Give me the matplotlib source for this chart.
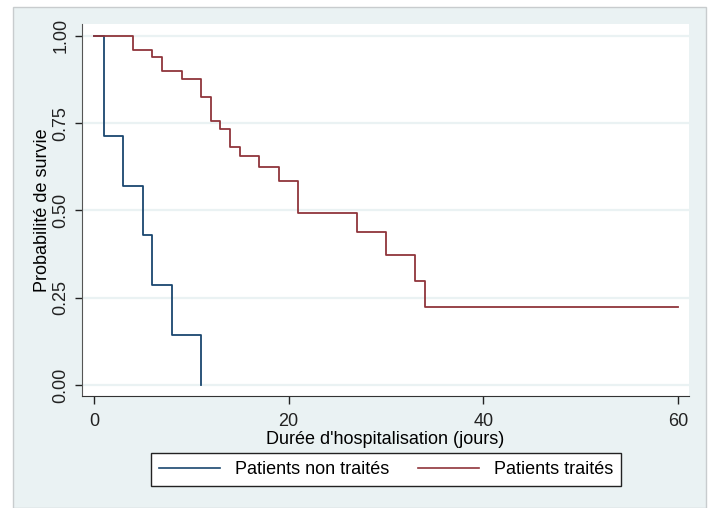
'''Courbes de survie Kaplan-Meier - patients traités vs non traités'''
import matplotlib
matplotlib.use('Agg')
import matplotlib.pyplot as plt
from matplotlib.patches import Rectangle

# Données
jours_non_traites = [0, 1, 3, 5, 6, 8, 11]
survie_non_traites = [1.0, 0.714, 0.571, 0.429, 0.286, 0.143, 0.0]

jours_traites = [0, 4, 6, 7, 9, 11, 12, 13, 14, 15, 17, 19, 21, 27, 30, 33, 34, 60]
survie_traites = [1.0, 0.958, 0.938, 0.898, 0.876, 0.826, 0.756, 0.733, 0.681,
                  0.656, 0.623, 0.583, 0.493, 0.438, 0.374, 0.299, 0.224, 0.224]

x_ticks = [0, 20, 40, 60]
y_ticks = [0.0, 0.25, 0.5, 0.75, 1.0]
y_tick_labels = ['0.00', '0.25', '0.50', '0.75', '1.00']
noms_groupes = ['Patients non traités', 'Patients traités']

BLEU = '#1A476F'
BORDEAUX = '#90353B'
FOND = '#EAF2F3'

plt.rcParams['font.family'] = ['Liberation Sans', 'DejaVu Sans']

W, H = 712, 508
fig = plt.figure(figsize=(W / 100, H / 100), dpi=100, facecolor='white')

# fond du graphique (style Stata)
fig.patches.append(Rectangle((13 / W, 0), (706 - 13) / W, (H - 7) / H,
                             transform=fig.transFigure, facecolor=FOND,
                             edgecolor='#C8CCCE', linewidth=1.0, zorder=-10))

ax = fig.add_axes([82 / W, (H - 396) / H, (689 - 82) / W, (396 - 24.5) / H])
ax.set_facecolor('white')

ax.step(jours_non_traites, survie_non_traites, where='post', color=BLEU,
        linewidth=1.3, label=noms_groupes[0], zorder=3)
ax.step(jours_traites, survie_traites, where='post', color=BORDEAUX,
        linewidth=1.3, label=noms_groupes[1], zorder=3)

ax.set_xlim(-1.23, 61.15)
ax.set_ylim(-0.0306, 1.032)

ax.set_xticks(x_ticks)
ax.set_yticks(y_ticks)
ax.set_yticklabels(y_tick_labels, rotation=90, va='center')
ax.tick_params(axis='both', labelsize=13, colors='#222222', direction='out')
ax.tick_params(axis='x', length=6, width=1, pad=6)
ax.tick_params(axis='y', length=5, width=1, pad=4)

ax.grid(axis='y', color=FOND, linewidth=1.6)
ax.set_axisbelow(True)

for cote in ['top', 'right']:
    ax.spines[cote].set_visible(False)
ax.spines['left'].set_color('#555555')
ax.spines['bottom'].set_color('#333333')

ax.set_xlabel("Durée d'hospitalisation (jours)", fontsize=13, labelpad=1)
ax.set_ylabel('Probabilité de survie', fontsize=13, labelpad=1)

leg = fig.legend(loc='center', bbox_to_anchor=((153 + 619) / 2 / W, 1 - 469.5 / H),
                 ncol=2, fontsize=13, frameon=True, fancybox=False, framealpha=1,
                 handlelength=3.4, handletextpad=0.8, columnspacing=1.6,
                 borderpad=0.45, edgecolor='#222222')
leg.get_frame().set_linewidth(1.0)
for ligne in leg.get_lines():
    ligne.set_linewidth(1.2)

fig.savefig('out.png', dpi=100, facecolor='white')
